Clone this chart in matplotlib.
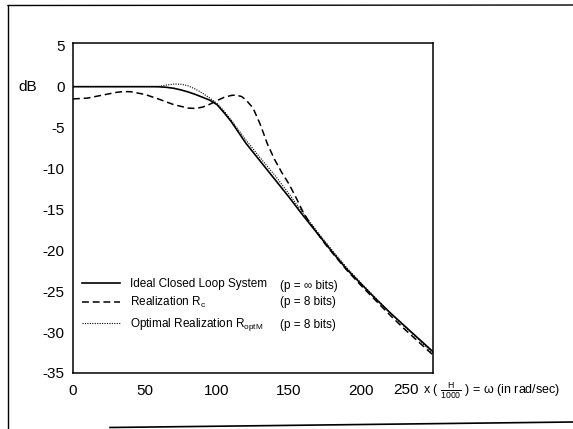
import matplotlib
matplotlib.use('Agg')
import numpy as np
from matplotlib import pyplot as plt
from matplotlib.lines import Line2D

plt.rcParams['font.family'] = ['Liberation Sans', 'DejaVu Sans']
plt.rcParams['mathtext.fontset'] = 'custom'
plt.rcParams['mathtext.rm'] = 'Liberation Sans'
plt.rcParams['mathtext.default'] = 'rm'
plt.rcParams['axes.unicode_minus'] = False

# frequency (x H/1000) and magnitude in dB
w_ideal = [0, 20, 40, 55, 60, 65, 70, 75, 80, 85, 90, 95, 100, 105, 110, 115, 120, 125, 130,
           140, 150, 160, 170, 180, 190, 200, 210, 220, 230, 240, 250]
db_ideal = [0, 0, 0, 0, -0.02, -0.08, -0.2, -0.4, -0.65, -0.95, -1.3, -1.65, -2.2, -3.2, -4.3,
            -5.6, -6.9, -8.0, -9.1, -11.3, -13.5, -15.8, -18.0, -20.2, -22.3, -24.1, -25.9,
            -27.6, -29.2, -30.8, -32.4]

w_rc = [0, 10, 20, 30, 35, 40, 50, 60, 70, 80, 85, 90, 95, 100, 105, 110, 113, 117, 120, 125,
        130, 135, 140, 145, 150, 155, 160, 165, 170, 175, 180, 190, 200, 210, 220, 230, 240, 250]
db_rc = [-1.5, -1.4, -1.05, -0.7, -0.6, -0.62, -0.95, -1.55, -2.2, -2.62, -2.66, -2.5, -2.15,
         -1.7, -1.3, -1.07, -1.03, -1.2, -1.6, -2.6, -4.6, -7.0, -8.9, -10.5, -11.9, -13.6,
         -15.4, -16.8, -18.0, -19.2, -20.3, -22.4, -24.3, -26.1, -27.9, -29.6, -31.2, -32.8]

w_opt = [0, 20, 40, 55, 60, 65, 70, 75, 80, 85, 90, 95, 100, 105, 110, 115, 120, 125, 130,
         140, 150, 160, 170, 180, 190, 200, 210, 220, 230, 240, 250]
db_opt = [0, 0, 0, 0, 0.05, 0.2, 0.32, 0.3, 0.1, -0.3, -0.8, -1.4, -2.05, -3.0, -4.1, -5.3,
          -6.5, -7.6, -8.7, -10.8, -13.1, -15.5, -17.8, -20.0, -22.1, -24.0, -25.8, -27.6,
          -29.3, -30.9, -32.6]

labels = ['Ideal Closed Loop System', 'Realization R$_{c}$', 'Optimal Realization R$_{optM}$']
bits = ['(p = \u221e bits)', '(p = 8 bits)', '(p = 8 bits)']

fig = plt.figure(figsize=(5.73, 4.29), dpi=100)
ax = fig.add_axes([73 / 573, 1 - 373 / 429, 360 / 573, 329.7 / 429])

l1, = ax.plot(w_ideal, db_ideal, color='black', lw=1.2, ls='-')
l2, = ax.plot(w_rc, db_rc, color='black', lw=1.1, ls=(0, (4.5, 2.5)))
l3, = ax.plot(w_opt, db_opt, color='black', lw=0.8, ls=(0, (1, 1.2)))

ax.set_xlim(0, 250)
ax.set_ylim(-34.6, 5.3)
ax.set_xticks([0, 50, 100, 150, 200])
ax.set_yticks([5, 0, -5, -10, -15, -20, -25, -30, -35])
ax.tick_params(length=0, labelsize=11, pad=6)
ax.tick_params(axis='x', pad=8)
for s in ax.spines.values():
    s.set_linewidth(1.1)

ax.text(-0.125, 0, 'dB', transform=ax.get_yaxis_transform(), ha='center', va='center', fontsize=11)
ax.text(0.925, -0.053, '250', transform=ax.transAxes, ha='center', va='center', fontsize=11)
ax.text(0.972, -0.053, 'x ( $\\frac{\\mathrm{H}}{\\mathrm{1000}}$ ) = \u03c9 (in rad/sec)',
        transform=ax.transAxes, ha='left', va='center', fontsize=9)

leg_kw = dict(loc='center left', frameon=False, fontsize=8.5, handlelength=3.2,
              handletextpad=0.9, borderpad=0, borderaxespad=0)
leg1 = ax.legend([l1, l2], labels[:2], bbox_to_anchor=(0.025, 0.24), labelspacing=0.45,
                 **leg_kw)
ax.add_artist(leg1)
ax.legend([l3], labels[2:], bbox_to_anchor=(0.025, 0.146), **leg_kw)
for i, b in enumerate(bits):
    ax.text(0.575, [0.264, 0.216, 0.146][i], b, transform=ax.transAxes, fontsize=8.5, va='center')

# scanned page border
fig.add_artist(Line2D([8 / 573, 1], [1 - 5.5 / 429, 1 - 5.0 / 429], color='black', lw=1.0))
fig.add_artist(Line2D([8 / 573, 8 / 573], [1 - 5.5 / 429, 0], color='black', lw=1.0))
fig.add_artist(Line2D([110 / 573, 1], [1 - 427.5 / 429, 1 - 422 / 429], color='black', lw=1.2))

fig.savefig('out.png', dpi=100)
